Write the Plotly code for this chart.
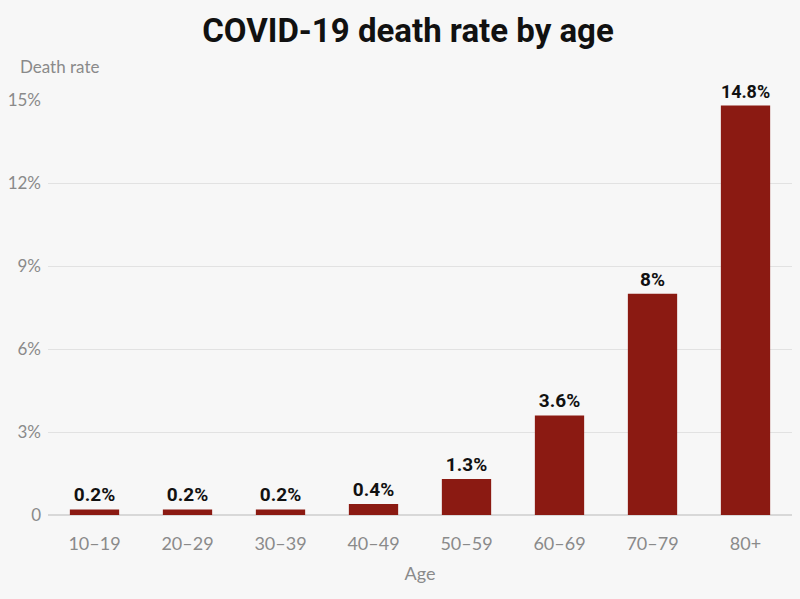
import plotly.graph_objects as go

ages = ["10–19", "20–29", "30–39", "40–49", "50–59", "60–69", "70–79", "80+"]
death_rate = [0.2, 0.2, 0.2, 0.4, 1.3, 3.6, 8, 14.8]
labels = ["0.2%", "0.2%", "0.2%", "0.4%", "1.3%", "3.6%", "8%", "14.8%"]
y_ticks = [0, 3, 6, 9, 12, 15]
y_tick_text = ["0", "3%", "6%", "9%", "12%", "15%"]

fig = go.Figure(go.Bar(
    x=ages, y=death_rate, text=labels, textposition="outside",
    texttemplate="<b>%{text}</b>",
    textfont=dict(family="Roboto", size=19, color="#111111"),
    marker=dict(color="#8b1a12", line=dict(width=0)),
    cliponaxis=False,
))

fig.update_layout(
    width=800, height=599,
    paper_bgcolor="#f7f7f7", plot_bgcolor="#f7f7f7",
    margin=dict(l=48, r=8, t=100, b=84),
    bargap=0.47,
    showlegend=False,
    title=dict(text="<b>COVID-19 death rate by age</b>", x=0.51, xanchor="center",
               y=0.95, yanchor="middle",
               font=dict(family="Roboto", size=33, color="#111111")),
    xaxis=dict(showgrid=False, showline=False, zeroline=False,
               tickfont=dict(family="Lato", size=18, color="#8a8a8a"),
               ticks="", ticklabelstandoff=16,
               title=dict(text="Age", font=dict(family="Lato", size=18, color="#8a8a8a"), standoff=14)),
    yaxis=dict(range=[0, 15], tickvals=y_ticks, ticktext=y_tick_text,
               showgrid=True, gridcolor="#e2e2e2", gridwidth=1,
               zeroline=True, zerolinecolor="#d8d8d8", zerolinewidth=2,
               showline=False, ticks="", ticklabelstandoff=6,
               tickfont=dict(family="Lato", size=17, color="#8a8a8a")),
    annotations=[dict(text="Death rate", xref="paper", yref="paper", x=-0.04, y=1.08,
                      xanchor="left", yanchor="middle", showarrow=False,
                      font=dict(family="Lato", size=17, color="#8a8a8a"))],
)

fig.write_html("out.html", config={"displayModeBar": False},
               post_script="document.body.style.margin='0';document.body.style.background='#f7f7f7';")
